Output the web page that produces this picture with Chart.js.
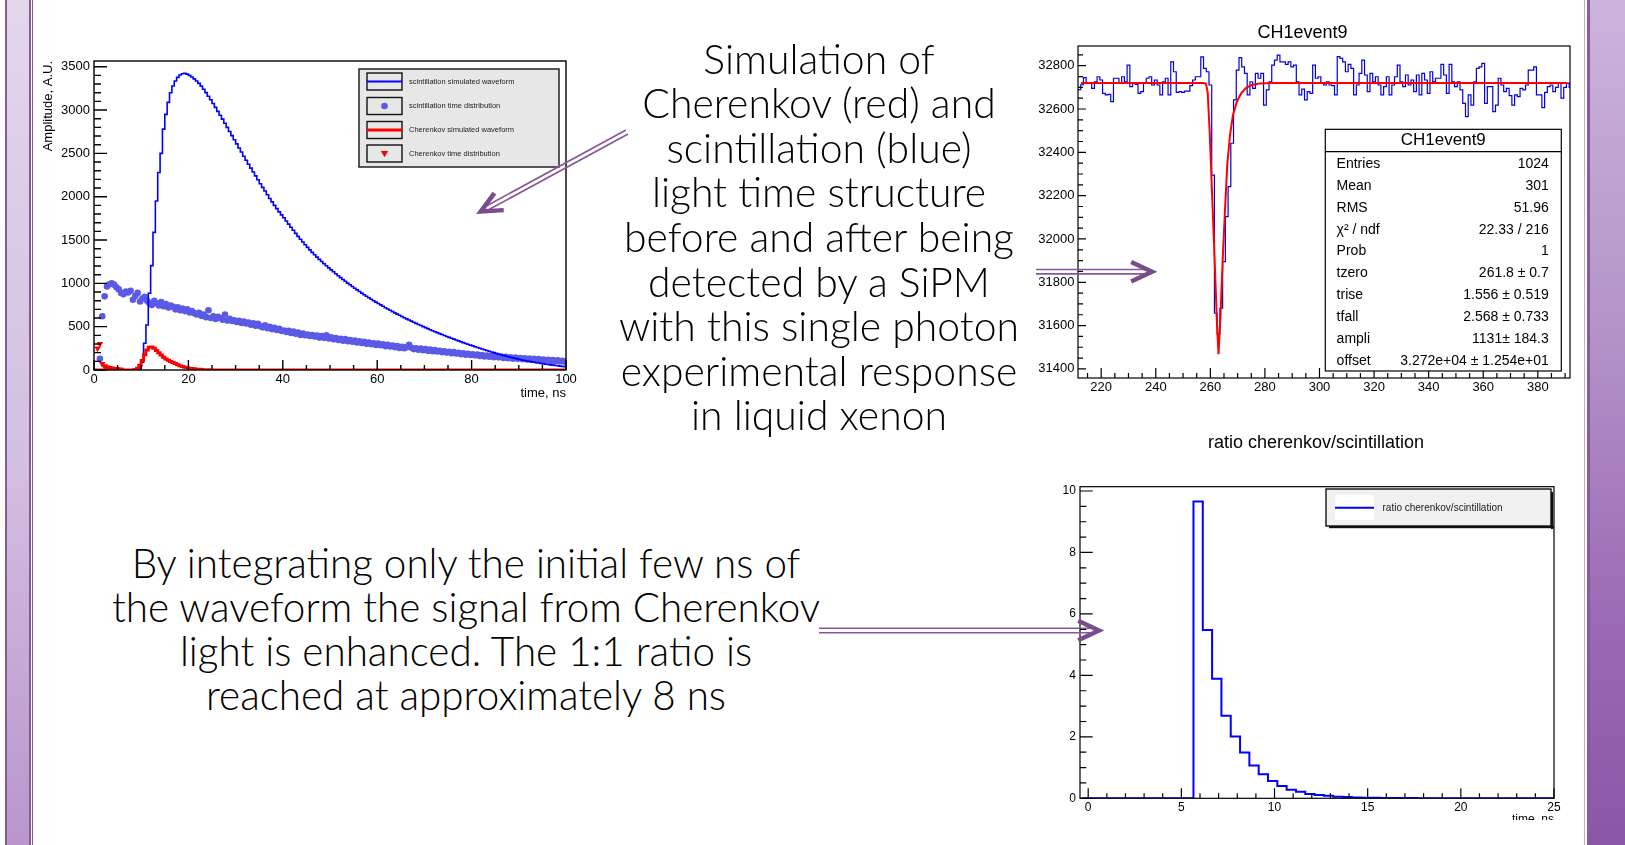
<!DOCTYPE html>
<html>
<head>
<meta charset="utf-8">
<script src="https://cdn.jsdelivr.net/npm/chart.js@4.4.0/dist/chart.umd.min.js"></script>
<style>
html, body { margin: 0; padding: 0; }
body { width: 1625px; height: 845px; position: relative; overflow: hidden; background: #fff; }
.bar { position: absolute; top: 0; height: 845px; }
.slide-text { position: absolute; text-align: center; white-space: nowrap; color: #000;
  font-family: Lato, 'Open Sans', 'DejaVu Sans', sans-serif; font-weight: 300; }
canvas { position: absolute; }
#arrows { position: absolute; left: 0; top: 0; z-index: 5; }
</style>
</head>
<body>
<!-- slide borders -->
<div class="bar" style="left:5px;width:2px;background:#865a97"></div>
<div class="bar" style="left:7px;width:22px;background:linear-gradient(#e3d7ec,#d3bfe0 55%,#b995cb)"></div>
<div class="bar" style="left:29px;width:1.5px;background:#865a97"></div>
<div class="bar" style="left:32px;width:1.2px;background:#865a97"></div>
<div class="bar" style="left:1584px;width:1px;background:#c3a9d2"></div>
<div class="bar" style="left:1587px;width:3px;background:#8a5a9d"></div>
<div class="bar" style="left:1590px;width:35px;background:linear-gradient(#cbb4dc,#b392c8 40%,#9a68b4 75%,#8c56a6)"></div>

<canvas id="waveforms" width="560" height="370" style="left:30px;top:40px"></canvas>
<canvas id="event" width="545" height="385" style="left:1030px;top:15px"></canvas>
<div style="position:absolute;left:1030px;top:420px;width:572px;height:400px;overflow:hidden">
  <canvas id="ratio" width="572" height="415" style="left:0;top:0"></canvas>
</div>

<div id="topText" class="slide-text" style="left:519px;top:36.7px;width:600px;line-height:44.6px">
Simulation of<br>Cherenkov (red) and<br>scintillation (blue)<br>light time structure<br>before and after being<br>detected by a SiPM<br>with this single photon<br>experimental response<br>in liquid xenon</div>
<div id="bottomText" class="slide-text" style="left:66px;top:541px;width:800px;line-height:44px">
By integrating only the initial few ns of<br>the waveform the signal from Cherenkov<br>light is enhanced. The 1:1 ratio is<br>reached at approximately 8 ns</div>

<svg id="arrows" width="1625" height="845"></svg>

<script>
// ---- waveform plot: 0.5 ns bins from 0 to 100 ns ----
const waveBin = 0.5;
const scintWave = [
  0, 0, 0, 0, 0, 0, 0, 0, 0, 0,
  0, 0, 0, 0, 0, 0, 0, 0, 0, 15,
  90, 308, 519, 885, 1204, 1588, 1950, 2280, 2500, 2780,
  2950, 3088, 3200, 3277, 3335, 3377, 3404, 3418, 3423, 3415,
  3400, 3382, 3360, 3336, 3308, 3276, 3240, 3201, 3160, 3118,
  3075, 3031, 2985, 2940, 2895, 2848, 2800, 2752, 2705, 2657,
  2610, 2562, 2515, 2467, 2420, 2375, 2330, 2285, 2240, 2195,
  2150, 2107, 2065, 2022, 1980, 1940, 1900, 1862, 1825, 1790,
  1757, 1720, 1683, 1647, 1612, 1577, 1542, 1509, 1477, 1446,
  1415, 1386, 1358, 1330, 1303, 1277, 1252, 1227, 1203, 1179,
  1156, 1133, 1110, 1088, 1066, 1045, 1024, 1003, 983, 963,
  944, 925, 906, 887, 869, 851, 834, 817, 800, 783,
  767, 751, 735, 719, 704, 689, 674, 659, 645, 631,
  617, 603, 590, 577, 564, 551, 538, 525, 513, 501,
  489, 477, 465, 453, 442, 431, 420, 409, 398, 387,
  377, 366, 356, 346, 336, 326, 316, 306, 297, 287,
  278, 269, 260, 251, 242, 233, 225, 216, 208, 200,
  192, 184, 177, 169, 162, 155, 148, 141, 135, 128,
  122, 116, 110, 104, 99, 94, 89, 84, 80, 75,
  71, 67, 63, 59, 56, 52, 49, 45, 42, 39
];
const scintDist = [
  null, null, 130, 620, 850, 965, 990, 1000, 985, 955,
  930, 890, 875, 905, 895, 915, 810, 855, 890, 790,
  825, 845, 800, 770, 750, 800, 770, 745, 785, 735,
  760, 720, 745, 730, 700, 725, 690, 710, 680, 700,
  665, 680, 655, 640, 660, 625, 640, 610, 690, 600,
  620, 590, 615, 600, 580, 640, 570, 590, 565, 575,
  555, 568, 542, 560, 538, 548, 522, 540, 512, 533,
  505, 492, 515, 482, 498, 470, 488, 462, 476, 450,
  455, 438, 452, 428, 444, 418, 431, 404, 421, 402,
  410, 393, 402, 386, 397, 374, 391, 371, 400, 364,
  376, 356, 369, 347, 361, 338, 356, 333, 346, 327,
  341, 318, 331, 312, 324, 302, 316, 297, 309, 288,
  304, 286, 296, 274, 291, 271, 281, 262, 276, 254,
  268, 251, 264, 290, 256, 241, 251, 233, 247, 228,
  241, 221, 236, 217, 229, 213, 223, 204, 216, 201,
  211, 194, 206, 189, 199, 183, 193, 177, 187, 173,
  181, 169, 177, 161, 173, 157, 167, 153, 163, 148,
  158, 146, 153, 139, 151, 137, 147, 131, 143, 130,
  138, 126, 134, 121, 133, 118, 129, 114, 126, 112,
  122, 109, 119, 104, 116, 101, 113, 99, 107, 95
];
const cherWave = [
  0, 0, 0, 0, 0, 0, 0, 0, 0, 0,
  0, 0, 0, 0, 0, 0, 0, 5, 20, 55,
  110, 175, 230, 262, 265, 250, 225, 200, 172, 148,
  128, 112, 98, 86, 75, 62, 50, 41, 33, 26,
  21, 17, 13, 10, 8, 6, 4, 3, 2, 1,
  0, 0, 0, 0, 0, 0, 0, 0, 0, 0,
  0, 0, 0, 0, 0, 0, 0, 0, 0, 0,
  0, 0, 0, 0, 0, 0, 0, 0, 0, 0,
  0, 0, 0, 0, 0, 0, 0, 0, 0, 0,
  0, 0, 0, 0, 0, 0, 0, 0, 0, 0,
  0, 0, 0, 0, 0, 0, 0, 0, 0, 0,
  0, 0, 0, 0, 0, 0, 0, 0, 0, 0,
  0, 0, 0, 0, 0, 0, 0, 0, 0, 0,
  0, 0, 0, 0, 0, 0, 0, 0, 0, 0,
  0, 0, 0, 0, 0, 0, 0, 0, 0, 0,
  0, 0, 0, 0, 0, 0, 0, 0, 0, 0,
  0, 0, 0, 0, 0, 0, 0, 0, 0, 0,
  0, 0, 0, 0, 0, 0, 0, 0, 0, 0,
  0, 0, 0, 0, 0, 0, 0, 0, 0, 0,
  0, 0, 0, 0, 0, 0, 0, 0, 0, 0
];
const cherDist = [null, 250, 300, 70, 45, 32, 25, 18, 12, 9, 6, 4];
const waveLegend = ['scintillation simulated waveform', 'scintillation time distribution',
  'Cherenkov simulated waveform', 'Cherenkov time distribution'];

// ---- single event: 1-wide ADC bins, first bin centred on 212 ----
const eventFirstEdge = 211.5;
const eventAdc = [
  32690, 32712, 32745, 32718, 32720, 32695, 32726, 32749, 32734, 32672,
  32665, 32668, 32634, 32742, 32742, 32718, 32749, 32726, 32803, 32703,
  32718, 32714, 32672, 32680, 32718, 32742, 32749, 32711, 32734, 32711,
  32665, 32726, 32742, 32665, 32818, 32772, 32677, 32680, 32677, 32683,
  32683, 32708, 32734, 32749, 32749, 32841, 32788, 32772, 32711, 32295,
  31657, 31560, 31680, 31895, 32103, 32242, 32442, 32642, 32780, 32837,
  32795, 32765, 32665, 32726, 32695, 32765, 32742, 32765, 32618, 32688,
  32726, 32803, 32826, 32849, 32818, 32818, 32806, 32818, 32795, 32803,
  32726, 32665, 32692, 32642, 32680, 32672, 32803, 32742, 32749, 32718,
  32711, 32726, 32711, 32708, 32665, 32842, 32834, 32818, 32772, 32806,
  32788, 32665, 32711, 32765, 32826, 32757, 32680, 32765, 32726, 32749,
  32711, 32665, 32703, 32749, 32665, 32711, 32749, 32803, 32726, 32703,
  32757, 32711, 32734, 32680, 32757, 32665, 32765, 32734, 32672, 32772,
  32726, 32742, 32742, 32806, 32757, 32672, 32806, 32726, 32703, 32726,
  32688, 32626, 32565, 32665, 32618, 32726, 32788, 32795, 32811, 32626,
  32703, 32703, 32588, 32618, 32742, 32711, 32680, 32695, 32662, 32618,
  32665, 32657, 32695, 32688, 32711, 32780, 32780, 32795, 32665, 32665,
  32606, 32677, 32703, 32711, 32680, 32700, 32720, 32650, 32700, 32720,
  32700
];
const fitTime = [212.6, 257.6, 258.4, 259.0, 259.7, 260.6, 261.6, 262.4, 263.0, 263.7, 264.5,
  265.4, 266.2, 267.2, 268.3, 269.7, 271.3, 273.1, 275.2, 278.0, 282.9, 390.7];
const fitAdc = [32720, 32720, 32716, 32680, 32511, 32219, 31896, 31619, 31468, 31642, 31896,
  32142, 32342, 32480, 32572, 32634, 32672, 32698, 32711, 32718, 32720, 32720];
const statNames = ['Entries', 'Mean', 'RMS', 'χ² / ndf', 'Prob', 'tzero', 'trise', 'tfall', 'ampli', 'offset'];
const statValues = ['1024', '301', '51.96', '22.33 / 216', '1', '261.8 ± 0.7', '1.556 ± 0.519',
  '2.568 ± 0.733', '1131± 184.3', '3.272e+04 ± 1.254e+01'];

// ---- cherenkov / scintillation ratio: 0.5 ns bins ----
const ratioFirstEdge = -0.35;
const ratioBin = 0.5;
const ratioValues = [
  0, 0, 0, 0, 0, 0, 0, 0, 0, 0, 0, 0,
  9.66, 5.48, 3.89, 2.69, 2.01, 1.49, 1.07, 0.78, 0.56, 0.40,
  0.28, 0.21, 0.14, 0.11, 0.08, 0.05, 0.04, 0.03, 0.02, 0.02,
  0.01, 0.01, 0.01, 0.01, 0, 0, 0, 0, 0, 0,
  0, 0, 0, 0, 0, 0, 0, 0, 0
];

const FONT = "'Liberation Sans', Arial, sans-serif";
Chart.defaults.font.family = FONT;
Chart.defaults.color = '#000';

// histogram outline: one point per lower bin edge plus the closing edge
function histPoints(firstEdge, width, values) {
  const pts = values.map((v, i) => ({ x: firstEdge + i * width, y: v }));
  pts.push({ x: firstEdge + values.length * width, y: values[values.length - 1] });
  return pts;
}
function markerPoints(firstEdge, width, values) {
  const pts = [];
  values.forEach((v, i) => { if (v !== null) pts.push({ x: firstEdge + (i + 0.5) * width, y: v }); });
  return pts;
}
function fixSize(size) {
  return function (scale) {
    if (scale.isHorizontal()) scale.height = size; else scale.width = size;
    scale.paddingLeft = scale.paddingRight = scale.paddingTop = scale.paddingBottom = 0;
  };
}
// labelled ticks at every multiple of step inside the axis range
function stepTicks(step) {
  return function (scale) {
    const out = [];
    for (let k = Math.ceil(scale.min / step - 1e-6); k * step <= scale.max + 1e-9; k++) {
      out.push({ value: Math.round(k * step * 1e6) / 1e6 });
    }
    scale.ticks = out;
  };
}
function axisTicks(ctx, scale, area, t, horizontal) {
  for (let k = Math.ceil(scale.min / t.minor - 1e-6); k * t.minor <= scale.max + 1e-9; k++) {
    const v = k * t.minor;
    const major = Math.abs(v / t.major - Math.round(v / t.major)) < 1e-6;
    const len = major ? t.majorLen : t.minorLen;
    const p = scale.getPixelForValue(v);
    if (horizontal) { ctx.moveTo(p, area.bottom); ctx.lineTo(p, area.bottom - len); }
    else { ctx.moveTo(area.left, p); ctx.lineTo(area.left + len, p); }
  }
}
// ROOT look: frame, inward ticks, title and boxes
function rootPlugin(cfg) {
  return {
    id: 'rootDecor',
    afterDraw(chart) {
      const ctx = chart.ctx, a = chart.chartArea;
      const ox = cfg.origin[0], oy = cfg.origin[1];
      ctx.save();
      ctx.strokeStyle = '#000';
      ctx.lineWidth = cfg.lineWidth;
      ctx.beginPath();
      axisTicks(ctx, chart.scales.x, a, cfg.x, true);
      axisTicks(ctx, chart.scales.y, a, cfg.y, false);
      ctx.stroke();
      ctx.strokeRect(a.left, a.top, a.right - a.left, a.bottom - a.top);
      if (cfg.title) {
        ctx.fillStyle = '#000';
        ctx.font = '18px ' + FONT;
        ctx.textAlign = 'center';
        ctx.textBaseline = 'middle';
        ctx.fillText(cfg.title.text, cfg.title.x - ox, cfg.title.y - oy);
      }
      if (cfg.extra) cfg.extra(ctx, ox, oy);
      ctx.restore();
    }
  };
}
function scaleOpts(min, max, step, size, pad, fontSize, title) {
  const s = {
    type: 'linear', min: min, max: max, afterFit: fixSize(size), afterBuildTicks: stepTicks(step),
    grid: { display: false, drawTicks: false }, border: { display: false },
    ticks: { padding: pad, maxRotation: 0, autoSkip: false,
      color: '#000', font: { size: fontSize }, callback: v => String(v) }
  };
  if (title) s.title = title;
  return s;
}
const baseOpts = { responsive: false, animation: false, events: [],
  plugins: { legend: { display: false }, tooltip: { enabled: false } } };

// ---------- left: waveforms ----------
function drawWaveLegend(ctx, ox, oy) {
  const L = 359 - ox, T = 69 - oy;
  ctx.fillStyle = '#e7e7e7';
  ctx.fillRect(L, T, 200, 98);
  ctx.lineWidth = 1.5;
  ctx.strokeStyle = '#222';
  ctx.strokeRect(L, T, 200, 98);
  const rows = [81.5, 106, 130, 153.5];
  rows.forEach((cy, i) => {
    const y = cy - oy, bx = 367 - ox;
    ctx.lineWidth = 1.4;
    ctx.strokeStyle = '#111';
    ctx.strokeRect(bx, y - 8.5, 35, 17);
    if (i === 0 || i === 2) {
      ctx.strokeStyle = i === 0 ? '#0000ff' : '#ff0000';
      ctx.lineWidth = i === 0 ? 2 : 3;
      ctx.beginPath(); ctx.moveTo(bx, y); ctx.lineTo(bx + 35, y); ctx.stroke();
    } else {
      ctx.fillStyle = i === 1 ? '#5a5ae6' : '#ff0000';
      ctx.beginPath();
      if (i === 1) ctx.arc(bx + 17.5, y, 3.3, 0, Math.PI * 2);
      else { ctx.moveTo(bx + 13.8, y - 2.5); ctx.lineTo(bx + 21.2, y - 2.5); ctx.lineTo(bx + 17.5, y + 3.8); }
      ctx.fill();
    }
    ctx.fillStyle = '#222';
    ctx.font = '7.5px ' + FONT;
    ctx.textAlign = 'left';
    ctx.textBaseline = 'middle';
    ctx.fillText(waveLegend[i], 409 - ox, y);
  });
}
new Chart(document.getElementById('waveforms'), {
  type: 'scatter',
  data: { datasets: [
    { label: waveLegend[0], data: histPoints(0, waveBin, scintWave), showLine: true, stepped: 'before',
      borderColor: '#0000ff', borderWidth: 1.6, pointRadius: 0, order: 3 },
    { label: waveLegend[1], data: markerPoints(0, waveBin, scintDist), pointStyle: 'circle', pointRadius: 3.3,
      pointBackgroundColor: '#5a5ae6', pointBorderWidth: 0, order: 4 },
    { label: waveLegend[2], data: histPoints(0, waveBin, cherWave), showLine: true, stepped: 'before',
      borderColor: '#ff0000', borderWidth: 3, pointRadius: 0, order: 2 },
    { label: waveLegend[3], data: markerPoints(0, waveBin, cherDist), pointStyle: 'triangle', pointRotation: 180,
      pointRadius: 3.8, pointBackgroundColor: '#ff0000', pointBorderWidth: 0, order: 1 }
  ] },
  options: Object.assign({}, baseOpts, {
    layout: { padding: { top: 21, right: 24, left: 0, bottom: 0 } },
    scales: {
      x: scaleOpts(0, 100, 20, 40, 1.2, 13,
        { display: true, text: 'time, ns', align: 'end', color: '#000', font: { size: 13 }, padding: { top: 0, bottom: 9.2 } }),
      y: scaleOpts(0, 3566, 500, 64, 4, 13,
        { display: true, text: 'Amplitude, A.U.', align: 'end', color: '#000', font: { size: 13 }, padding: { top: 10.2, bottom: 0 } })
    }
  }),
  plugins: [rootPlugin({ origin: [30, 40], lineWidth: 1.4,
    x: { major: 20, minor: 5, majorLen: 10, minorLen: 5 },
    y: { major: 500, minor: 100, majorLen: 13, minorLen: 7 },
    extra: drawWaveLegend })]
});

// ---------- top right: single event with fit ----------
function drawStats(ctx, ox, oy) {
  const L = 1325.3 - ox, T = 129.3 - oy, R = 1561.3 - ox, B = 371 - oy;
  ctx.fillStyle = '#fff';
  ctx.fillRect(L, T, R - L, B - T);
  ctx.strokeStyle = '#000';
  ctx.lineWidth = 1.2;
  ctx.strokeRect(L, T, R - L, B - T);
  ctx.beginPath(); ctx.moveTo(L, 151.7 - oy); ctx.lineTo(R, 151.7 - oy); ctx.stroke();
  ctx.fillStyle = '#000';
  ctx.textBaseline = 'middle';
  ctx.textAlign = 'center';
  ctx.font = '17px ' + FONT;
  ctx.fillText('CH1event9', (L + R) / 2, 140.7 - oy);
  ctx.font = '14px ' + FONT;
  statNames.forEach((name, i) => {
    const y = 164 + i * 21.9 - oy;
    ctx.textAlign = 'left';
    ctx.fillText(name, 1336.6 - ox, y);
    ctx.textAlign = 'right';
    ctx.fillText(statValues[i], 1548.8 - ox, y);
  });
}
new Chart(document.getElementById('event'), {
  type: 'scatter',
  data: { datasets: [
    { label: 'CH1event9', data: histPoints(eventFirstEdge, 1, eventAdc), showLine: true, stepped: 'before',
      borderColor: '#0000e0', borderWidth: 1.2, pointRadius: 0, order: 2 },
    { label: 'fit', data: fitTime.map((t, i) => ({ x: t, y: fitAdc[i] })), showLine: true,
      borderColor: '#ff0000', borderWidth: 2, pointRadius: 0, order: 1 }
  ] },
  options: Object.assign({}, baseOpts, {
    layout: { padding: { top: 31, right: 5, left: 0, bottom: 0 } },
    scales: {
      x: scaleOpts(211.5, 391.8, 20, 22, 1.9, 13),
      y: scaleOpts(31358, 32891, 200, 48, 3.6, 13)
    }
  }),
  plugins: [rootPlugin({ origin: [1030, 15], lineWidth: 1.2,
    x: { major: 20, minor: 5, majorLen: 10, minorLen: 5 },
    y: { major: 200, minor: 50, majorLen: 8, minorLen: 5 },
    title: { text: 'CH1event9', x: 1302.5, y: 33 },
    extra: drawStats })]
});

// ---------- bottom right: ratio ----------
function drawRatioLegend(ctx, ox, oy) {
  const L = 1326 - ox, T = 489 - oy, W = 225, H = 37;
  ctx.fillStyle = '#111';
  ctx.fillRect(L + 3, T + H, W, 2.2);
  ctx.fillRect(L + W, T + 3, 2.2, H);
  ctx.fillStyle = '#f0f0f0';
  ctx.fillRect(L, T, W, H);
  ctx.strokeStyle = '#111';
  ctx.lineWidth = 1.4;
  ctx.strokeRect(L, T, W, H);
  ctx.fillStyle = '#fff';
  ctx.fillRect(1335 - ox, 495 - oy, 39, 25);
  ctx.strokeStyle = '#0000ff';
  ctx.lineWidth = 2;
  ctx.beginPath(); ctx.moveTo(1335 - ox, 507.7 - oy); ctx.lineTo(1374 - ox, 507.7 - oy); ctx.stroke();
  ctx.fillStyle = '#222';
  ctx.font = '10px ' + FONT;
  ctx.textAlign = 'left';
  ctx.textBaseline = 'middle';
  ctx.fillText('ratio cherenkov/scintillation', 1382.5 - ox, 508 - oy);
}
new Chart(document.getElementById('ratio'), {
  type: 'scatter',
  data: { datasets: [
    { label: 'ratio cherenkov/scintillation', data: histPoints(ratioFirstEdge, ratioBin, ratioValues),
      showLine: true, stepped: 'before', borderColor: '#0000ff', borderWidth: 2, pointRadius: 0 }
  ] },
  options: Object.assign({}, baseOpts, {
    layout: { padding: { top: 66.7, right: 48, left: 0, bottom: 0 } },
    scales: {
      x: scaleOpts(-0.44, 25, 5, 36.7, 1.8, 12,
        { display: true, text: 'time, ns', align: 'end', color: '#000', font: { size: 12 }, padding: { top: 0, bottom: 8 } }),
      y: scaleOpts(0, 10.14, 2, 50, 4.2, 12)
    }
  }),
  plugins: [rootPlugin({ origin: [1030, 420], lineWidth: 1.2,
    x: { major: 5, minor: 1, majorLen: 10, minorLen: 5 },
    y: { major: 2, minor: 0.5, majorLen: 12.7, minorLen: 6.3 },
    title: { text: 'ratio cherenkov/scintillation', x: 1316, y: 443 },
    extra: drawRatioLegend })]
});

// ---------- slide text sizing ----------
function fitFont(id, sample, target) {
  const el = document.getElementById(id);
  const c = document.createElement('canvas').getContext('2d');
  c.font = '300 100px ' + getComputedStyle(el).fontFamily;
  el.style.fontSize = (100 * target / c.measureText(sample).width).toFixed(2) + 'px';
}
fitFont('topText', 'before and after being', 391);
fitFont('bottomText', 'the waveform the signal from Cherenkov', 709);

// ---------- double-line arrows ----------
const svg = document.getElementById('arrows');
const NS = 'http://www.w3.org/2000/svg';
function svgEl(tag, attrs) {
  const e = document.createElementNS(NS, tag);
  for (const k in attrs) e.setAttribute(k, attrs[k]);
  svg.appendChild(e);
}
function arrow(x1, y1, x2, y2) {
  const len = Math.hypot(x2 - x1, y2 - y1);
  const ux = (x2 - x1) / len, uy = (y2 - y1) / len, nx = -uy, ny = ux;
  [-2.2, 2.2].forEach(g => svgEl('line', { x1: x1 + nx * g, y1: y1 + ny * g,
    x2: x2 - ux * 5 + nx * g, y2: y2 - uy * 5 + ny * g, stroke: '#86569a', 'stroke-width': 1.6 }));
  const arm = 23, ang = 25 * Math.PI / 180;
  const tx = x2 - ux * 2, ty = y2 - uy * 2;
  const bx = -ux, by = -uy;
  const a1x = tx + arm * (bx * Math.cos(ang) - by * Math.sin(ang));
  const a1y = ty + arm * (bx * Math.sin(ang) + by * Math.cos(ang));
  const a2x = tx + arm * (bx * Math.cos(-ang) - by * Math.sin(-ang));
  const a2y = ty + arm * (bx * Math.sin(-ang) + by * Math.cos(-ang));
  svgEl('polyline', { points: `${a1x},${a1y} ${tx},${ty} ${a2x},${a2y}`, fill: 'none',
    stroke: '#7b4c8c', 'stroke-width': 4.5, 'stroke-linejoin': 'miter' });
}
arrow(627, 132, 479, 212.5);
arrow(1036, 271.7, 1154, 271.7);
arrow(819, 630.5, 1101, 630.5);
</script>
</body>
</html>
